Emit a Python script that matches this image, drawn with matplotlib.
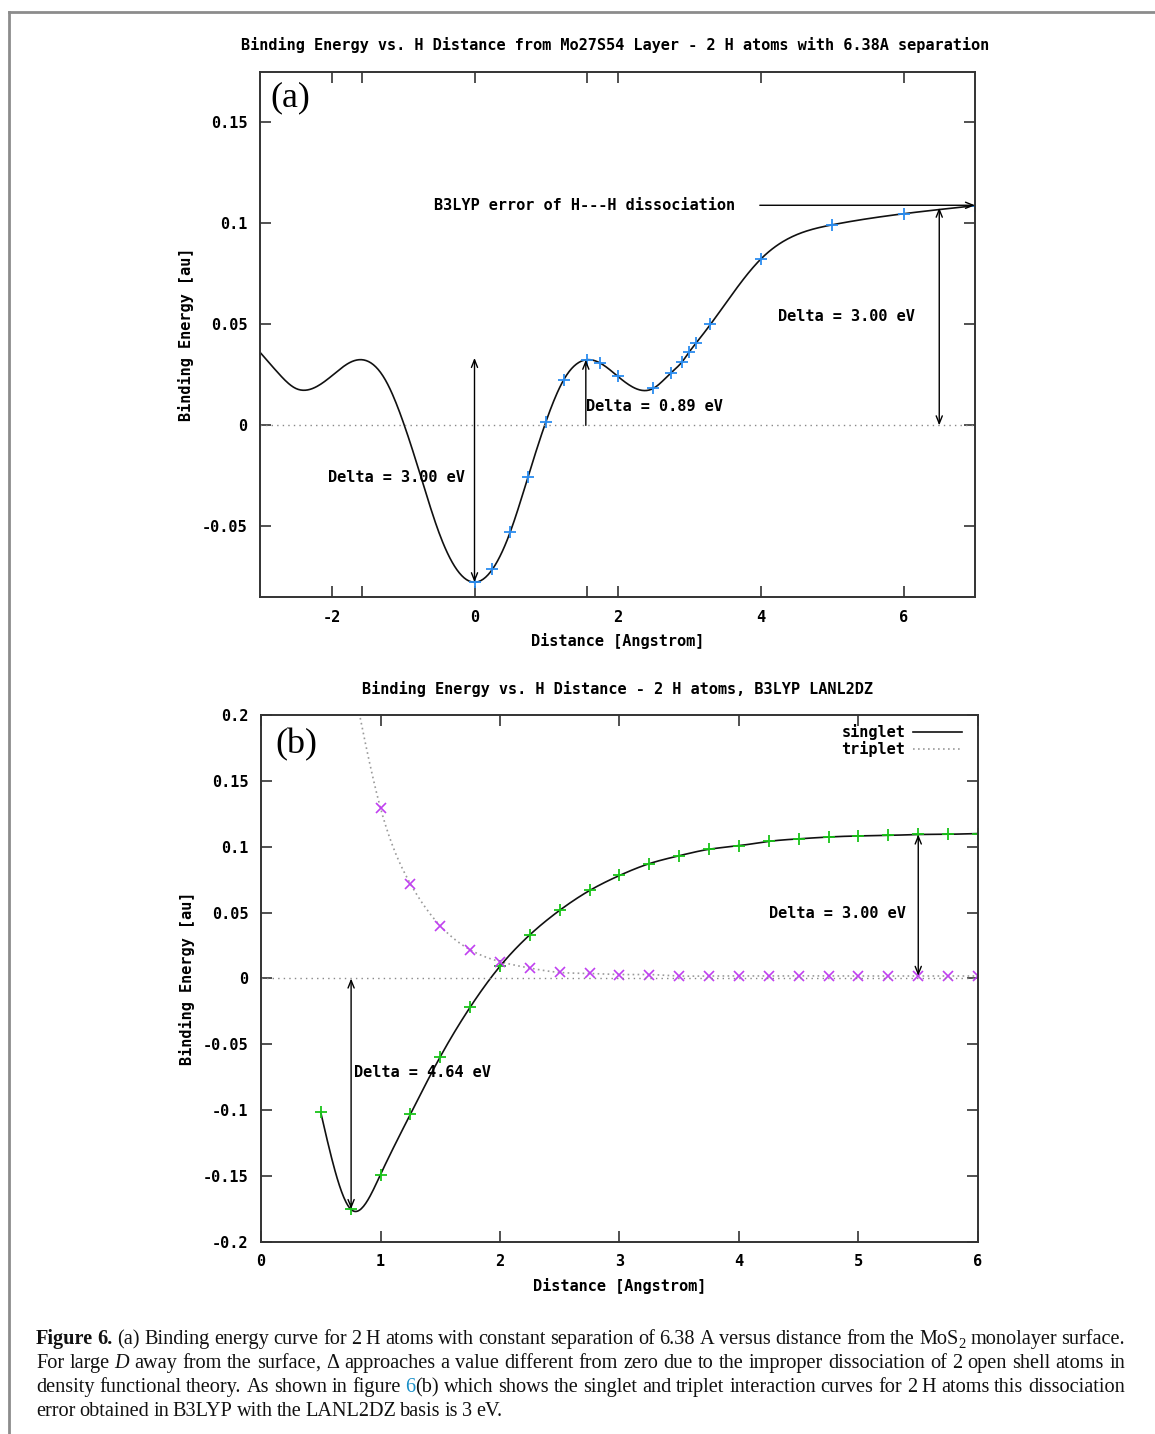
import numpy as np
import matplotlib
matplotlib.use('Agg')
import matplotlib.pyplot as plt
from matplotlib.lines import Line2D

W, H = 1155, 1434

# panel (a): binding energy vs distance from the Mo27S54 layer
a_x = [0.0, 0.25, 0.5, 0.75, 1.0, 1.25, 1.57, 1.75, 2.0, 2.5, 2.75, 2.9, 3.0, 3.1, 3.3, 4.0, 5.0, 6.0, 7.0]
a_y = [-0.0777, -0.0713, -0.0528, -0.0254, 0.0019, 0.0227, 0.0325, 0.0310, 0.0244, 0.0183,
       0.0261, 0.0313, 0.0362, 0.0408, 0.0500, 0.0822, 0.0993, 0.1048, 0.1088]
# the fitted curve also runs over negative distances (no markers there)
a_left_x = [-3.0, -2.75, -2.5, -2.0, -1.75, -1.57, -1.25, -1.0, -0.75, -0.5, -0.25]
a_left_y = [0.0362, 0.0261, 0.0183, 0.0244, 0.0310, 0.0325, 0.0227, 0.0019, -0.0254, -0.0528, -0.0713]
a_xticks = [-2, -1.57, 0, 1.57, 2, 4, 6]
a_xlabels = ['-2', '', '0', '', '2', '4', '6']
a_yticks = [-0.05, 0, 0.05, 0.1, 0.15]
a_ylabels = ['-0.05', '0', '0.05', '0.1', '0.15']

# panel (b): singlet / triplet H-H curves
s_x = [0.5, 0.75, 1.0, 1.25, 1.5, 1.75, 2.0, 2.25, 2.5, 2.75, 3.0, 3.25, 3.5, 3.75,
       4.0, 4.25, 4.5, 4.75, 5.0, 5.25, 5.5, 5.75, 6.0]
s_y = [-0.1016, -0.1750, -0.1488, -0.1030, -0.0594, -0.0218, 0.0093, 0.0332, 0.0518, 0.0668,
       0.0782, 0.0872, 0.0932, 0.0981, 0.1008, 0.1041, 0.1060, 0.1074, 0.1082, 0.1086,
       0.1093, 0.1095, 0.1100]
t_x = [0.75, 1.0, 1.25, 1.5, 1.75, 2.0, 2.25, 2.5, 2.75, 3.0, 3.25, 3.5, 3.75,
       4.0, 4.25, 4.5, 4.75, 5.0, 5.25, 5.5, 5.75, 6.0]
t_y = [0.235, 0.1294, 0.0719, 0.0400, 0.0218, 0.0128, 0.0079, 0.0046, 0.0038, 0.0030, 0.0030,
       0.0019, 0.0019, 0.0019, 0.0019, 0.0020, 0.0019, 0.0019, 0.0019, 0.0019, 0.0019, 0.0019]
b_yticks = [-0.2, -0.15, -0.1, -0.05, 0, 0.05, 0.1, 0.15, 0.2]
b_ylabels = ['-0.2', '-0.15', '-0.1', '-0.05', '0', '0.05', '0.1', '0.15', '0.2']

MONO = dict(family='DejaVu Sans Mono', weight='bold', size=11)


def cspline(x, y, n=600):
    # natural cubic spline, like gnuplot "smooth csplines"
    x = np.asarray(x, float)
    y = np.asarray(y, float)
    h = np.diff(x)
    m = len(x)
    A = np.zeros((m, m))
    r = np.zeros(m)
    A[0, 0] = A[-1, -1] = 1
    for i in range(1, m - 1):
        A[i, i - 1] = h[i - 1]
        A[i, i] = 2 * (h[i - 1] + h[i])
        A[i, i + 1] = h[i]
        r[i] = 3 * ((y[i + 1] - y[i]) / h[i] - (y[i] - y[i - 1]) / h[i - 1])
    c = np.linalg.solve(A, r)
    b = (y[1:] - y[:-1]) / h - h * (2 * c[:-1] + c[1:]) / 3
    d = (c[1:] - c[:-1]) / (3 * h)
    xs = np.linspace(x[0], x[-1], n)
    i = np.clip(np.searchsorted(x, xs) - 1, 0, m - 2)
    t = xs - x[i]
    return xs, y[i] + b[i] * t + c[i] * t ** 2 + d[i] * t ** 3


def arrow(ax, x0, y0, x1, y1, style='<->'):
    ax.annotate('', xy=(x1, y1), xytext=(x0, y0),
                arrowprops=dict(arrowstyle=style + ',head_length=0.55,head_width=0.22',
                                color='black', lw=1.0, shrinkA=0, shrinkB=0))


def style_axes(ax):
    for s in ax.spines.values():
        s.set_linewidth(1.4)
        s.set_color('#333333')
    ax.tick_params(direction='in', top=True, right=True, length=8, width=1.2,
                   color='#333333', pad=9)
    for lab in ax.get_xticklabels() + ax.get_yticklabels():
        lab.set_fontproperties(matplotlib.font_manager.FontProperties(**MONO))


fig = plt.figure(figsize=(W / 100, H / 100), dpi=100)

# ---------------- panel (a) ----------------
ax1 = fig.add_axes([260 / W, 1 - 597 / H, 715 / W, 525 / H])
cx, cy = cspline(a_left_x + a_x, a_left_y + a_y)
ax1.plot(cx, cy, color='#111111', lw=1.2)
ax1.plot(a_x, a_y, ls='none', marker='+', ms=8, mew=1.3, color='#2a8cf0')
ax1.axhline(0, color='#888888', lw=1.0, ls=(0, (1, 3)))
ax1.set_xlim(-3, 7)
ax1.set_ylim(-0.085, 0.175)
ax1.set_xticks(a_xticks, a_xlabels)
ax1.set_yticks(a_yticks, a_ylabels)
style_axes(ax1)
ax1.set_xlabel('Distance [Angstrom]', fontdict=MONO, labelpad=6)
ax1.set_ylabel('Binding Energy [au]', fontdict=MONO, labelpad=6)

ax1.text(-0.57, 0.109, 'B3LYP error of H---H dissociation', va='center', ha='left', **MONO)
arrow(ax1, 3.99, 0.109, 7.0, 0.109, '->')
arrow(ax1, 0, -0.0777, 0, 0.0334)
ax1.text(-0.14, -0.0258, 'Delta = 3.00 eV', ha='right', va='center', **MONO)
arrow(ax1, 1.557, 0, 1.557, 0.0325, '->')
ax1.text(1.557, 0.0092, 'Delta = 0.89 eV', ha='left', va='center', **MONO)
arrow(ax1, 6.5, 0, 6.5, 0.1078)
ax1.text(4.25, 0.0538, 'Delta = 3.00 eV', ha='left', va='center', **MONO)
ax1.text(0.015, 0.95, '(a)', transform=ax1.transAxes, family='Liberation Serif',
         size=26, va='center', ha='left')

# ---------------- panel (b) ----------------
ax2 = fig.add_axes([261 / W, 1 - 1242 / H, 717 / W, 527 / H])
tx, ty = cspline(t_x, t_y)
ax2.plot(tx, ty, color='#9a9a9a', lw=1.2, ls=(0, (1, 2)), label='triplet')
sx, sy = cspline(s_x, s_y)
ax2.plot(sx, sy, color='#111111', lw=1.2, label='singlet')
ax2.plot(s_x, s_y, ls='none', marker='+', ms=8, mew=1.3, color='#19c419')
ax2.plot(t_x, t_y, ls='none', marker='x', ms=7, mew=1.2, color='#c040f0')
ax2.axhline(0, color='#888888', lw=1.0, ls=(0, (1, 3)))
ax2.set_xlim(0, 6)
ax2.set_ylim(-0.2, 0.2)
ax2.set_xticks(range(7))
ax2.set_yticks(b_yticks, b_ylabels)
style_axes(ax2)
ax2.set_xlabel('Distance [Angstrom]', fontdict=MONO, labelpad=6)
ax2.set_ylabel('Binding Energy [au]', fontdict=MONO, labelpad=6)

arrow(ax2, 0.754, 0, 0.754, -0.175)
ax2.text(0.78, -0.0717, 'Delta = 4.64 eV', ha='left', va='center', **MONO)
arrow(ax2, 5.5, 0.002, 5.5, 0.1093)
ax2.text(5.4, 0.049, 'Delta = 3.00 eV', ha='right', va='center', **MONO)
ax2.text(0.02, 0.943, '(b)', transform=ax2.transAxes, family='Liberation Serif',
         size=26, va='center', ha='left')
h, l = ax2.get_legend_handles_labels()
ax2.legend(h[::-1], l[::-1], loc='upper right', frameon=False, markerfirst=False,
           prop=matplotlib.font_manager.FontProperties(**MONO), handlelength=3.2,
           handletextpad=0.5, labelspacing=0.05, borderaxespad=0.2,
           bbox_to_anchor=(0.99, 1.0))

# titles
fig.text(615 / W, 1 - 45 / H,
         'Binding Energy vs. H Distance from Mo27S54 Layer - 2 H atoms with 6.38A separation',
         ha='center', va='center', **MONO)
fig.text(617 / W, 1 - 689 / H, 'Binding Energy vs. H Distance - 2 H atoms, B3LYP LANL2DZ',
         ha='center', va='center', **MONO)

# page frame
fig.add_artist(Line2D([9 / W, 1], [1 - 12 / H, 1 - 12 / H], color='#8c8c8c', lw=2))
fig.add_artist(Line2D([9 / W, 9 / W], [0, 1 - 12 / H], color='#8c8c8c', lw=2))

# caption, justified word by word
CAP = {'r': dict(), 'b': dict(weight='bold'), 'i': dict(style='italic'),
       'l': dict(color='#1a8fc8'), 's': dict(size=10.5)}
cap_lines = [
    [('Figure 6.', 'b'),
     (' (a) Binding energy curve for 2 H atoms with constant separation of 6.38 A versus '
      'distance from the MoS', 'r'), ('2', 's'), (' monolayer surface.', 'r')],
    [('For large ', 'r'), ('D', 'i'),
     (' away from the surface, \u0394 approaches a value different from zero due to the '
      'improper dissociation of 2 open shell atoms in', 'r')],
    [('density functional theory. As shown in figure ', 'r'), ('6', 'l'),
     ('(b) which shows the singlet and triplet interaction curves for 2 H atoms this '
      'dissociation', 'r')],
    [('error obtained in B3LYP with the LANL2DZ basis is 3 eV.', 'r')],
]
cap_base = [1344, 1368, 1392, 1416]
x_left, x_right = 36, 1125
renderer = fig.canvas.get_renderer()

for n, segs in enumerate(cap_lines):
    words = [[]]
    for txt, code in segs:
        for k, p in enumerate(txt.split(' ')):
            if k > 0:
                words.append([])
            if p.endswith(',') and len(p) > 1:
                # a comma drawn on its own keeps the word on the baseline
                words[-1].append((p[:-1], code))
                words[-1].append((',', code))
            elif p:
                words[-1].append((p, code))
    words = [w for w in words if w]
    placed = []
    for w in words:
        parts = []
        width = 0
        for p, code in w:
            kw = dict(family='Liberation Serif', size=14.6, color='#111111')
            kw.update(CAP[code])
            dy = 4 if code == 's' else 0
            t = fig.text(0, 0, p, va='baseline', ha='left', **kw)
            parts.append((t, width, dy))
            width += t.get_window_extent(renderer).width
        placed.append((parts, width))
    total = sum(wd for _, wd in placed)
    if n < len(cap_lines) - 1:
        gap = (x_right - x_left - total) / (len(placed) - 1)
    else:
        gap = 4
    x = x_left
    for parts, wd in placed:
        for t, off, dy in parts:
            t.set_position(((x + off) / W, 1 - (cap_base[n] + dy) / H))
        x += wd + gap

fig.savefig('out.png', dpi=100)
